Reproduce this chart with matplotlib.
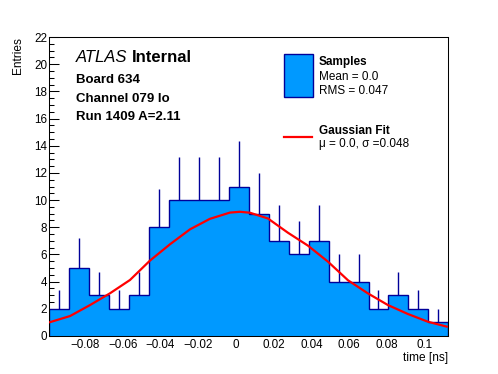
import numpy as np
import matplotlib
matplotlib.use("Agg")
import matplotlib.pyplot as plt
from matplotlib.ticker import FixedLocator, MultipleLocator
from matplotlib.patches import Rectangle
from matplotlib.lines import Line2D

plt.rcParams['font.family'] = ['Liberation Sans', 'DejaVu Sans']

# histogram: 20 bins over the time range
x_lo, x_hi = -0.0988, 0.1124
counts = [2, 5, 3, 2, 3, 8, 10, 10, 10, 11, 9, 7, 6, 7, 4, 4, 2, 3, 2, 1]
errors = [1.41, 2.24, 1.73, 1.41, 1.73, 2.83, 3.16, 3.16, 3.16, 3.32,
          3.0, 2.65, 2.45, 2.65, 2.0, 2.0, 1.41, 1.73, 1.41, 1.0]

# gaussian fit curve
fit_x = [-0.0984, -0.0878, -0.0772, -0.0667, -0.0561, -0.0455, -0.0349, -0.0243,
         -0.0138, -0.0032, 0.0021, 0.0074, 0.0169, 0.0275, 0.0381, 0.0487,
         0.0593, 0.0698, 0.0804, 0.0910, 0.1016, 0.1116]
fit_y = [1.02, 1.47, 2.28, 3.14, 4.12, 5.55, 6.75, 7.85,
         8.62, 9.08, 9.14, 9.07, 8.65, 7.6, 6.65, 5.47,
         4.1, 3.14, 2.28, 1.62, 1.05, 0.69]

xtick_vals = [-0.08, -0.06, -0.04, -0.02, 0, 0.02, 0.04, 0.06, 0.08, 0.1]
xtick_labels = ["\u22120.08", "\u22120.06", "\u22120.04", "\u22120.02", "0",
                "0.02", "0.04", "0.06", "0.08", "0.1"]

fill_col = "#0099ff"
line_col = "#000099"

W, H = 498, 374
fig = plt.figure(figsize=(W / 100, H / 100), dpi=100)
ax = fig.add_axes([49.3 / W, 1 - 336 / H, 399 / W, 299 / H])

edges = np.linspace(x_lo, x_hi, len(counts) + 1)
centers = (edges[:-1] + edges[1:]) / 2
c = np.array(counts, dtype=float)
e = np.array(errors)

ax.vlines(centers, c - e, c + e, color=line_col, lw=1.0, zorder=1)
ax.stairs(c, edges, fill=True, facecolor=fill_col, edgecolor=line_col,
          linewidth=1.0, zorder=2)
ax.plot(fit_x, fit_y, color="red", lw=1.6, zorder=3)

ax.set_xlim(x_lo, x_hi)
ax.set_ylim(0, 22)
ax.xaxis.set_major_locator(FixedLocator(xtick_vals))
ax.set_xticklabels(xtick_labels)
ax.xaxis.set_minor_locator(MultipleLocator(0.004))
ax.yaxis.set_major_locator(MultipleLocator(2))
ax.yaxis.set_minor_locator(MultipleLocator(0.5))
ax.tick_params(axis="both", which="both", direction="in", top=False, right=False,
               width=0.75, labelsize=8.4)
ax.tick_params(axis="y", which="major", length=7.2, pad=1.5)
ax.tick_params(axis="y", which="minor", length=3.6)
ax.tick_params(axis="x", which="major", length=6, pad=2.5)
ax.tick_params(axis="x", which="minor", length=3.2)
for s in ax.spines.values():
    s.set_linewidth(0.75)

fig.text(448.3 / W, 1 - 357.5 / H, "time [ns]", ha="right", va="center", fontsize=8.6)
fig.text(18 / W, 1 - 37 / H, "Entries", rotation=90, ha="center", va="top", fontsize=8.6)

# ATLAS label block
t = fig.text(76 / W, 1 - 62.5 / H, "ATLAS", style="italic", fontsize=12, va="baseline")
fig.canvas.draw()
bb = t.get_window_extent()
fig.text(bb.x1 / W + 4 / W, 1 - 62.5 / H, "Internal", weight="bold", fontsize=12, va="baseline")
fig.text(76 / W, 1 - 83.3 / H, "Board 634", weight="bold", fontsize=9.5, va="baseline")
fig.text(76 / W, 1 - 101.7 / H, "Channel 079 lo", weight="bold", fontsize=9.5, va="baseline")
fig.text(76 / W, 1 - 120 / H, "Run 1409 A=2.11", weight="bold", fontsize=9.5, va="baseline")

# legend
fig.patches.append(Rectangle((284 / W, 1 - 97 / H), 28.7 / W, 43 / H, transform=fig.transFigure,
                             facecolor=fill_col, edgecolor=line_col, lw=1.0))
fig.lines.append(Line2D([284 / W, 312 / W], [1 - 136.5 / H, 1 - 136.5 / H],
                        transform=fig.transFigure, color="red", lw=1.6))
fig.text(319 / W, 1 - 65.5 / H, "Samples", weight="bold", fontsize=8.5, va="baseline")
fig.text(319 / W, 1 - 80.5 / H, "Mean = 0.0", fontsize=8.5, va="baseline")
fig.text(319 / W, 1 - 94.5 / H, "RMS = 0.047", fontsize=8.5, va="baseline")
fig.text(319 / W, 1 - 134.5 / H, "Gaussian Fit", weight="bold", fontsize=8.5, va="baseline")
fig.text(319 / W, 1 - 146.5 / H, "\u03bc = 0.0, \u03c3 =0.048", fontsize=8.5, va="baseline")

plt.savefig("out.png", dpi=100)
plt.close()
